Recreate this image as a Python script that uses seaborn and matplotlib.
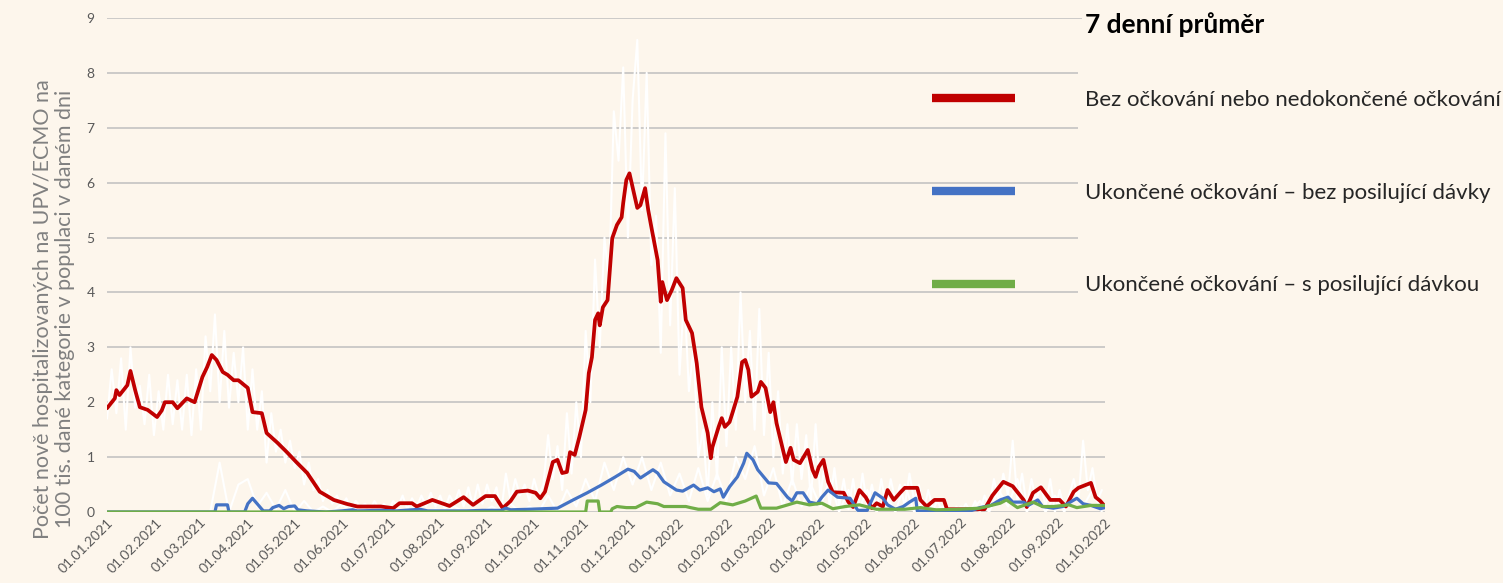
import pandas as pd
import numpy as np
import matplotlib
matplotlib.use('Agg')
import matplotlib.pyplot as plt
import matplotlib.dates as mdates
from matplotlib.patches import Rectangle
from matplotlib.lines import Line2D
import seaborn as sns

START = pd.Timestamp('2021-01-01')

# 7denni prumer - bez ockovani / nedokoncene
red_days = [0, 5, 6, 8, 13, 15, 18, 21, 26, 32, 35, 37, 42, 45, 51, 56, 61, 64, 67, 70, 74, 77, 81, 84,
            90, 93, 99, 102, 109, 115, 121, 128, 136, 145, 153, 160, 175, 183, 187, 195, 198, 208, 219,
            228, 234, 242, 248, 253, 258, 262, 269, 274, 277, 280, 285, 288, 291, 294, 296, 299, 302,
            306, 308, 310, 312, 314, 315, 317, 320, 323, 326, 329, 330, 332, 334, 336, 339, 341, 344,
            346, 348, 352, 354, 355, 358, 361, 364, 368, 370, 374, 377, 380, 384, 386, 387, 391, 393,
            395, 398, 400, 403, 406, 408, 410, 412, 416, 418, 421, 424, 426, 428, 434, 437, 439, 443,
            448, 451, 453, 455, 458, 461, 464, 471, 474, 477, 481, 485, 489, 492, 496, 499, 503, 507,
            510, 518, 520, 524, 529, 535, 537, 561, 566, 573, 579, 586, 588, 592, 597, 603, 609, 613,
            618, 621, 629, 632, 635, 638]
red_vals = [1.89, 2.07, 2.22, 2.13, 2.31, 2.57, 2.22, 1.91, 1.86, 1.73, 1.85, 2.0, 2.0, 1.89, 2.07, 2.0,
            2.46, 2.64, 2.86, 2.77, 2.55, 2.5, 2.4, 2.4, 2.26, 1.82, 1.8, 1.44, 1.26, 1.09, 0.91, 0.71,
            0.37, 0.22, 0.15, 0.1, 0.1, 0.07, 0.16, 0.16, 0.1, 0.22, 0.11, 0.27, 0.13, 0.29, 0.29, 0.07,
            0.2, 0.37, 0.39, 0.35, 0.25, 0.37, 0.91, 0.95, 0.71, 0.73, 1.09, 1.04, 1.37, 1.86, 2.53,
            2.82, 3.5, 3.62, 3.4, 3.73, 3.86, 4.99, 5.23, 5.37, 5.63, 6.05, 6.17, 5.92, 5.54, 5.59,
            5.9, 5.5, 5.19, 4.59, 3.83, 4.19, 3.86, 4.04, 4.26, 4.08, 3.5, 3.26, 2.71, 1.91, 1.44,
            0.98, 1.18, 1.55, 1.71, 1.55, 1.64, 1.82, 2.1, 2.73, 2.77, 2.59, 2.1, 2.19, 2.37, 2.26,
            1.82, 2.0, 1.62, 0.91, 1.17, 0.95, 0.89, 1.13, 0.77, 0.64, 0.82, 0.95, 0.55, 0.36, 0.35,
            0.18, 0.09, 0.4, 0.27, 0.07, 0.16, 0.1, 0.4, 0.22, 0.35, 0.44, 0.44, 0.22, 0.1, 0.22,
            0.22, 0.05, 0.05, 0.3, 0.55, 0.47, 0.22, 0.09, 0.35, 0.45, 0.22, 0.22, 0.1, 0.37, 0.44,
            0.53, 0.27, 0.2, 0.1]

# 7denni prumer - ukoncene ockovani bez posilujici davky
blue_days = [0, 69, 70, 77, 78, 88, 90, 93, 96, 99, 100, 104, 106, 110, 113, 116, 120, 122, 128, 140,
             150, 157, 160, 175, 185, 200, 205, 230, 240, 252, 255, 258, 270, 288, 298, 307, 316, 325,
             333, 337, 341, 349, 352, 356, 364, 368, 375, 379, 384, 388, 392, 394, 398, 403, 407, 409,
             413, 416, 423, 428, 435, 438, 441, 445, 449, 454, 457, 461, 467, 475, 480, 486, 491, 496,
             499, 504, 509, 513, 517, 518, 552, 558, 565, 571, 576, 579, 586, 589, 595, 598, 605, 611,
             620, 624, 629, 635, 638]
blue_vals = [0.0, 0.0, 0.13, 0.13, 0.0, 0.0, 0.15, 0.25, 0.15, 0.05, 0.02, 0.02, 0.08, 0.12, 0.06, 0.1,
             0.11, 0.04, 0.02, 0.0, 0.02, 0.04, 0.02, 0.03, 0.02, 0.05, 0.02, 0.02, 0.03, 0.03, 0.07,
             0.04, 0.05, 0.07, 0.22, 0.35, 0.49, 0.64, 0.78, 0.74, 0.62, 0.77, 0.71, 0.55, 0.4, 0.38,
             0.49, 0.4, 0.44, 0.37, 0.42, 0.27, 0.46, 0.64, 0.89, 1.07, 0.95, 0.77, 0.53, 0.52, 0.27,
             0.2, 0.35, 0.35, 0.18, 0.15, 0.27, 0.4, 0.27, 0.25, 0.03, 0.03, 0.35, 0.25, 0.13, 0.05,
             0.1, 0.18, 0.25, 0.02, 0.02, 0.08, 0.12, 0.22, 0.27, 0.18, 0.18, 0.12, 0.22, 0.1, 0.07,
             0.1, 0.25, 0.15, 0.12, 0.06, 0.08]

# 7denni prumer - ukoncene ockovani s posilujici davkou
green_days = [0, 306, 307, 314, 315, 322, 323, 326, 332, 338, 345, 352, 356, 370, 373, 378, 386, 392,
              400, 408, 415, 418, 428, 434, 441, 449, 457, 464, 472, 481, 492, 500, 510, 520, 530, 545,
              558, 571, 575, 582, 589, 592, 598, 605, 615, 620, 629, 638]
green_vals = [0.0, 0.0, 0.2, 0.2, 0.0, 0.0, 0.06, 0.1, 0.08, 0.08, 0.18, 0.15, 0.1, 0.1, 0.08, 0.05,
              0.05, 0.17, 0.13, 0.2, 0.29, 0.07, 0.07, 0.12, 0.18, 0.13, 0.16, 0.06, 0.1, 0.13, 0.05,
              0.05, 0.05, 0.08, 0.04, 0.05, 0.07, 0.16, 0.22, 0.08, 0.15, 0.18, 0.1, 0.1, 0.13, 0.08,
              0.12, 0.12]

# denni hodnoty (bile cary), odecteno zhruba po 3 dnech
raw_red_step = 3
raw_red_vals = [1.7, 2.6, 1.8, 2.8, 1.5, 3.0, 1.9, 2.3, 1.6, 2.5, 1.4, 2.2, 1.5, 2.5, 1.6, 2.4, 1.5, 2.5,
                1.4, 2.6, 1.5, 3.2, 2.2, 3.6, 2.0, 3.3, 1.9, 2.9, 2.0, 3.0, 1.5, 2.6, 1.5, 2.2, 0.9, 1.8,
                1.1, 1.5, 0.9, 1.3, 0.8, 1.1, 0.5, 0.9, 0.4, 0.6, 0.2, 0.4, 0.15, 0.3, 0.1, 0.25, 0.05,
                0.2, 0.1, 0.15, 0.05, 0.2, 0.05, 0.15, 0.05, 0.2, 0.1, 0.3, 0.05, 0.25, 0.1, 0.3, 0.1,
                0.35, 0.1, 0.3, 0.05, 0.3, 0.15, 0.4, 0.1, 0.45, 0.1, 0.5, 0.15, 0.5, 0.2, 0.45, 0.0,
                0.7, 0.2, 0.6, 0.3, 0.5, 0.2, 0.6, 0.3, 0.5, 1.4, 0.6, 1.2, 0.4, 1.8, 0.7, 2.0, 1.0, 3.3,
                2.0, 4.6, 3.0, 5.0, 4.2, 7.3, 6.4, 8.1, 5.0, 7.5, 8.6, 5.5, 8.0, 4.5, 5.4, 2.9, 6.9,
                3.4, 5.9, 2.5, 4.0, 2.2, 3.0, 1.0, 1.5, 0.3, 2.0, 0.6, 3.0, 1.2, 3.0, 1.5, 4.0, 2.0,
                3.3, 1.5, 3.7, 1.4, 2.9, 1.0, 2.2, 0.7, 1.6, 0.5, 1.6, 0.6, 1.4, 0.2, 1.6, 0.3, 0.9,
                0.1, 0.8, 0.1, 0.6, 0.05, 0.6, 0.0, 0.7, 0.1, 0.5, 0.05, 0.6, 0.1, 0.6, 0.2, 0.5, 0.1,
                0.7, 0.2, 0.5, 0.0, 0.4, 0.05, 0.2, 0.0, 0.1, 0.0, 0.1, 0.0, 0.15, 0.0, 0.2, 0.0, 0.3,
                0.1, 0.6, 0.2, 0.7, 0.3, 1.3, 0.2, 0.7, 0.1, 0.6, 0.2, 0.5, 0.1, 0.6, 0.0, 0.4, 0.05,
                0.3, 0.6, 0.2, 1.3, 0.4, 0.8, 0.2, 0.4]
raw_blue_step = 6
raw_blue_vals = [0, 0, 0, 0, 0, 0, 0, 0, 0, 0, 0, 0, 0.9, 0.0, 0.5, 0.6, 0.1, 0.35, 0.05, 0.4, 0.0, 0.2,
                 0.0, 0.1, 0.0, 0.15, 0, 0.1, 0, 0.1, 0, 0.05, 0, 0.1, 0, 0.05, 0, 0.1, 0, 0.05, 0.0,
                 0.1, 0.0, 0.15, 0.0, 0.1, 0.0, 0.3, 0.0, 0.4, 0.1, 0.6, 0.2, 0.9, 0.4, 1.0, 0.5, 1.0,
                 0.4, 0.9, 0.3, 0.7, 0.2, 0.8, 0.2, 0.7, 0.2, 1.0, 0.6, 1.2, 0.3, 0.8, 0.1, 0.6, 0.1,
                 0.5, 0.1, 0.6, 0.0, 0.4, 0.0, 0.4, 0.0, 0.3, 0.0, 0.5, 0.0, 0.2, 0.0, 0.1, 0.0, 0.1,
                 0.0, 0.2, 0.0, 0.4, 0.1, 0.6, 0.0, 0.3, 0.0, 0.3, 0.0, 0.4, 0.1, 0.4, 0.0]

labels = ['Bez očkování nebo nedokončené očkování',
          'Ukončené očkování – bez posilující dávky',
          'Ukončené očkování – s posilující dávkou']
colors = ['#C00000', '#4472C4', '#70AD47']
BG = '#FDF6EC'


def to_df(days, vals):
    return pd.DataFrame({'datum': START + pd.to_timedelta(days, unit='D'), 'hodnota': vals})


red = to_df(red_days, red_vals)
blue = to_df(blue_days, blue_vals)
green = to_df(green_days, green_vals)
raw_red = to_df([i * raw_red_step for i in range(len(raw_red_vals))], raw_red_vals)
raw_blue = to_df([i * raw_blue_step for i in range(len(raw_blue_vals))], raw_blue_vals)

sns.set_theme(style='white')
plt.rcParams['font.family'] = ['Lato', 'DejaVu Sans']

fig = plt.figure(figsize=(15.03, 5.83), dpi=100, facecolor=BG)
ax = fig.add_axes([107 / 1503, 71 / 583, 998 / 1503, 494 / 583])
ax.set_facecolor(BG)

for d in (raw_blue, raw_red):
    sns.lineplot(data=d, x='datum', y='hodnota', ax=ax, color='white', linewidth=1.5, zorder=2)
sns.lineplot(data=red, x='datum', y='hodnota', ax=ax, color=colors[0], linewidth=2.7, zorder=3)
sns.lineplot(data=blue, x='datum', y='hodnota', ax=ax, color=colors[1], linewidth=2.3, zorder=4)
sns.lineplot(data=green, x='datum', y='hodnota', ax=ax, color=colors[2], linewidth=2.3, zorder=5)

ax.set_xlim(START, pd.Timestamp('2022-10-01'))
ax.set_ylim(0, 9)
ax.set_yticks(range(10))
ax.xaxis.set_major_locator(mdates.MonthLocator())
ax.xaxis.set_major_formatter(mdates.DateFormatter('%d.%m.%Y'))
ax.grid(axis='y', color='#BFBFBF', linewidth=1.1, zorder=1)
ax.set_axisbelow(True)
for s in ax.spines.values():
    s.set_visible(False)
ax.tick_params(axis='both', length=0, colors='#595959', labelsize=10)
ax.tick_params(axis='y', pad=9)
ax.tick_params(axis='x', pad=3)
plt.setp(ax.get_xticklabels(), rotation=45, ha='right', rotation_mode='anchor')
ax.set_xlabel('')
ax.set_ylabel('')

fig.text(54 / 1503, 1 - 309 / 583,
         'Počet nově hospitalizovaných na UPV/ECMO na\n100 tis. dané kategorie v populaci v daném dni',
         rotation=90, ha='center', va='center', multialignment='center',
         fontsize=15.5, color='#808080', linespacing=1.12)

# legenda prekryva konec mrizky
fig.add_artist(Rectangle((1078 / 1503, 1 - 302 / 583), 425 / 1503, 280 / 583,
                         transform=fig.transFigure, facecolor=BG, edgecolor='none', zorder=2))
fig.text(1085 / 1503, 1 - 25 / 583, '7 denní průměr', fontsize=19, fontweight='bold',
         color='black', ha='left', va='center', zorder=3,
         bbox=dict(facecolor=BG, edgecolor='none', pad=2))

handles = [Line2D([], [], color=c, linewidth=6, solid_capstyle='butt') for c in colors]
fig.legend(handles, labels, loc='upper left', bbox_to_anchor=(932 / 1503, 1 - 90 / 583),
           frameon=False, fontsize=16, handlelength=3.75, handletextpad=3.15,
           labelspacing=3.27, borderpad=0, borderaxespad=0)

fig.savefig('out.png', dpi=100, facecolor=BG)
